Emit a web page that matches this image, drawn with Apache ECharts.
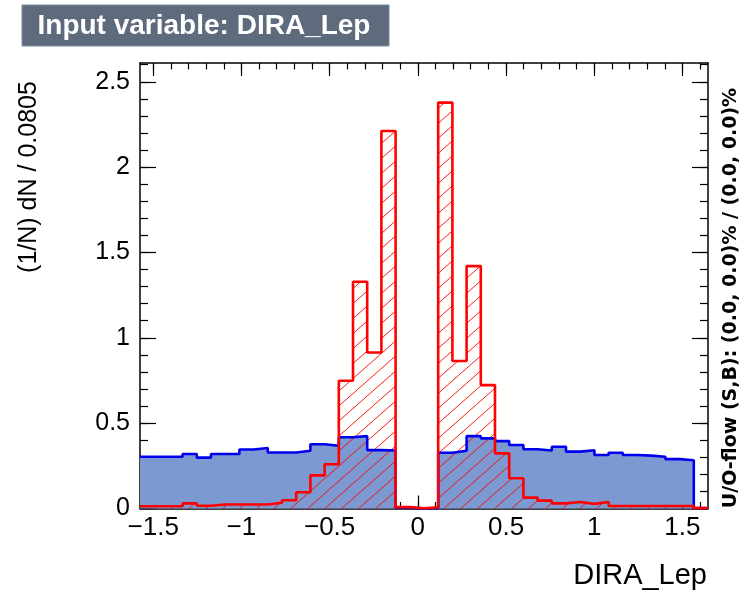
<!DOCTYPE html>
<html><head><meta charset="utf-8">
<script src="https://cdn.jsdelivr.net/npm/echarts@6/dist/echarts.min.js"></script>
<style>html,body{margin:0;padding:0;background:#ffffff}#c{width:743px;height:592px}</style>
</head><body><div id="c"></div>
<script>
// ---- data ----
const X_MIN = -1.575;
const BIN_WIDTH = 0.0805;
const N_BINS = 40;
const X_MAX = X_MIN + N_BINS * BIN_WIDTH;
const Y_MIN = 0;
const Y_MAX = 2.61;

const signal = [
  0.303, 0.303, 0.303, 0.319, 0.298, 0.319, 0.319, 0.346, 0.354, 0.328,
  0.328, 0.338, 0.376, 0.368, 0.417, 0.424, 0.342, 0.340, 0.005, 0.000,
  0.003, 0.327, 0.338, 0.424, 0.411, 0.395, 0.372, 0.347, 0.340, 0.362,
  0.333, 0.341, 0.313, 0.327, 0.313, 0.310, 0.303, 0.289, 0.283, 0.003
];
const background = [
  0.013, 0.013, 0.013, 0.030, 0.016, 0.023, 0.023, 0.023, 0.023, 0.034,
  0.048, 0.095, 0.194, 0.259, 0.748, 1.328, 0.914, 2.212, 0.008, 0.001,
  0.007, 2.378, 0.864, 1.420, 0.723, 0.323, 0.177, 0.064, 0.046, 0.030,
  0.038, 0.027, 0.038, 0.015, 0.015, 0.015, 0.015, 0.015, 0.015, 0.002
];
const xMajorTicks = [-1.5, -1, -0.5, 0, 0.5, 1, 1.5];
const yMajorTicks = [0, 0.5, 1, 1.5, 2, 2.5];

const titleText = 'Input variable: DIRA_Lep';
const xTitle = 'DIRA_Lep';
const yTitle = '(1/N) dN / 0.0805';
const flowText = 'U/O-flow (S,B): (0.0, 0.0)% / (0.0, 0.0)%';

// ---- helpers ----
const xMinorTicks = [];
for (let i = -15; i <= 16; i++) xMinorTicks.push(+(i / 10).toFixed(1));
const yMinorTicks = [];
for (let i = 0; i <= 26; i++) yMinorTicks.push(+(i / 10).toFixed(1));

function stepData(values) {
  const pts = values.map((v, k) => [X_MIN + k * BIN_WIDTH, v]);
  pts.push([X_MAX, values[values.length - 1]]);
  return pts;
}
function hatchPattern() {
  const w = 17, h = 15;
  const c = document.createElement('canvas');
  c.width = w; c.height = h;
  const g = c.getContext('2d');
  g.strokeStyle = 'rgba(255,0,0,0.9)';
  g.lineWidth = 1;
  g.beginPath();
  g.moveTo(0, h); g.lineTo(w, 0);
  g.moveTo(-w, h); g.lineTo(0, 0);
  g.moveTo(w, h); g.lineTo(2 * w, 0);
  g.stroke();
  return c;
}
const fmt = v => (v < 0 ? '\u2212' : '') + String(Math.abs(v));
const FONT = '"Liberation Sans", Arial, sans-serif';
const black = '#000000';

function xAxisDef(pos, major, showLine, showLabel) {
  return {
    type: 'value', min: X_MIN, max: X_MAX, position: pos, gridIndex: 0,
    splitLine: { show: false },
    axisLine: { show: showLine, onZero: false, lineStyle: { color: black, width: 1.5 } },
    axisTick: { show: true, inside: true, length: major ? 13 : 6.5,
      customValues: major ? xMajorTicks : xMinorTicks, lineStyle: { color: black, width: 1.2 } },
    axisLabel: { show: showLabel, customValues: xMajorTicks, formatter: fmt,
      fontSize: 26, fontFamily: FONT, color: black, margin: 6 }
  };
}
function yAxisDef(pos, major, showLine, showLabel) {
  return {
    type: 'value', min: Y_MIN, max: Y_MAX, position: pos, gridIndex: 0,
    splitLine: { show: false },
    axisLine: { show: showLine, onZero: false, lineStyle: { color: black, width: 1.5 } },
    axisTick: { show: true, inside: true, length: major ? 16 : 8,
      customValues: major ? yMajorTicks : yMinorTicks, lineStyle: { color: black, width: 1.2 } },
    axisLabel: { show: showLabel, customValues: yMajorTicks, formatter: fmt,
      fontSize: 25, fontFamily: FONT, color: black, margin: 10 }
  };
}

const chart = echarts.init(document.getElementById('c'), null, { renderer: 'canvas' });
chart.setOption({
  animation: false,
  backgroundColor: '#ffffff',
  grid: { left: 140, right: 35, top: 63, bottom: 83.5, show: true,
    backgroundColor: '#fffffd', borderWidth: 0 },
  xAxis: [
    xAxisDef('bottom', true, true, true),
    xAxisDef('bottom', false, false, false),
    xAxisDef('top', true, true, false),
    xAxisDef('top', false, false, false)
  ],
  yAxis: [
    yAxisDef('left', true, true, true),
    yAxisDef('left', false, false, false),
    yAxisDef('right', true, true, false),
    yAxisDef('right', false, false, false)
  ],
  series: [
    {
      name: 'Signal', type: 'line', step: 'end', xAxisIndex: 0, yAxisIndex: 0,
      data: stepData(signal), symbol: 'none',
      lineStyle: { color: '#0000ee', width: 2.6 },
      areaStyle: { color: '#7d99d1', opacity: 1 }
    },
    {
      name: 'Background', type: 'line', step: 'end', xAxisIndex: 0, yAxisIndex: 0,
      data: stepData(background), symbol: 'none',
      lineStyle: { color: '#ff0000', width: 2.6 },
      areaStyle: { color: { image: hatchPattern(), repeat: 'repeat' }, opacity: 1 }
    }
  ],
  graphic: [
    { type: 'rect', shape: { x: 22, y: 5, width: 367, height: 41 },
      style: { fill: '#5d6b7d', stroke: '#7d8b9d', lineWidth: 1 } },
    { type: 'text', x: 204, y: 26,
      style: { text: titleText, fill: '#ffffff', fontSize: 28, fontWeight: 'bold', fontFamily: FONT,
        align: 'center', verticalAlign: 'middle' } },
    { type: 'text', x: 29, y: 177, rotation: Math.PI / 2,
      style: { text: yTitle, fill: black, fontSize: 25, fontFamily: FONT,
        align: 'center', verticalAlign: 'middle' } },
    { type: 'text', x: 707, y: 576,
      style: { text: xTitle, fill: black, fontSize: 29, fontFamily: FONT,
        align: 'right', verticalAlign: 'middle' } },
    { type: 'text', x: 731, y: 298, rotation: Math.PI / 2,
      style: { text: flowText, fill: black, fontSize: 19, fontWeight: 'bold', fontFamily: '"DejaVu Sans", sans-serif',
        align: 'center', verticalAlign: 'middle' } }
  ]
});
</script>
</body></html>
